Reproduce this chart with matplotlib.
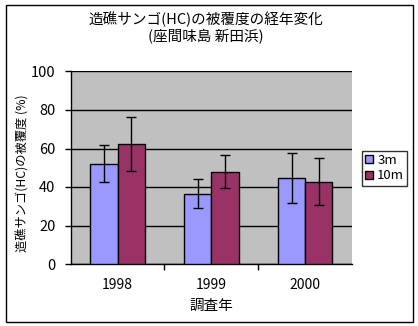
import numpy as np
import matplotlib.pyplot as plt
from matplotlib.patches import Rectangle

plt.rcParams['font.family'] = ['Noto Sans CJK JP', 'DejaVu Sans']

years = ['1998', '1999', '2000']
depths = ['3m', '10m']
cover_3m = [52.2, 36.6, 44.9]
cover_10m = [62.5, 48.0, 42.8]
err_3m = [9.6, 7.3, 13.0]
err_10m = [14.0, 8.4, 12.4]
colors = ['#9999ff', '#993366']

W, H = 418, 326
fig = plt.figure(figsize=(W / 100, H / 100), dpi=100)

# plot area in pixel coordinates
left, right, top, bottom = 70.7, 352, 71.5, 264
ax = fig.add_axes([left / W, 1 - bottom / H, (right - left) / W, (bottom - top) / H])
ax.set_facecolor('#c0c0c0')

x = np.arange(len(years))
bw = 0.29
ax.bar(x - bw / 2, cover_3m, bw, color=colors[0], edgecolor='black', linewidth=1,
       yerr=err_3m, capsize=3.5, error_kw=dict(elinewidth=1, capthick=1), label=depths[0], zorder=3)
ax.bar(x + bw / 2, cover_10m, bw, color=colors[1], edgecolor='black', linewidth=1,
       yerr=err_10m, capsize=3.5, error_kw=dict(elinewidth=1, capthick=1), label=depths[1], zorder=3)

ax.set_xlim(-0.5, 2.5)
ax.set_ylim(0, 100)
ax.set_yticks(range(0, 101, 20))
ax.yaxis.grid(True, color='black', linewidth=1)
ax.set_axisbelow(True)
ax.set_xticks(x)
ax.set_xticklabels(years, fontsize=10)
ax.set_xticks([0.5, 1.5], minor=True)
ax.tick_params(axis='x', which='major', length=0, pad=10)
ax.tick_params(axis='x', which='minor', length=4, width=1, direction='out')
ax.tick_params(axis='y', length=4, width=1, direction='out', labelsize=10.5, pad=7)
for s in ['top', 'right']:
    ax.spines[s].set_visible(False)
for s in ['left', 'bottom']:
    ax.spines[s].set_linewidth(1)

ax.set_xlabel('調査年', fontsize=10.5, labelpad=5)
ax.set_ylabel('造礁サンゴ(HC)の被覆度 (%)', fontsize=8.8)
ax.yaxis.set_label_coords((30 - left) / (right - left), (bottom - 173.5) / (bottom - top))

fig.text(206 / W, 1 - 28 / H, '造礁サンゴ(HC)の被覆度の経年変化\n(座間味島 新田浜)',
         ha='center', va='center', fontsize=10.5, linespacing=1.2)

leg = ax.legend(loc='upper left', bbox_to_anchor=(362 / W, 1 - 150.5 / H),
                bbox_transform=fig.transFigure, fontsize=9.5, frameon=True, fancybox=False,
                edgecolor='black', handlelength=0.6, handleheight=0.6, handletextpad=0.3,
                borderpad=0.25, labelspacing=0.2, borderaxespad=0)
leg.get_frame().set_linewidth(1)

# outer chart border
fig.patches.append(Rectangle((6 / W, 1 - 322 / H), (413 - 6) / W, (322 - 5) / H,
                             transform=fig.transFigure, fill=False, edgecolor='black', linewidth=1))

fig.savefig('out.png', dpi=100)
